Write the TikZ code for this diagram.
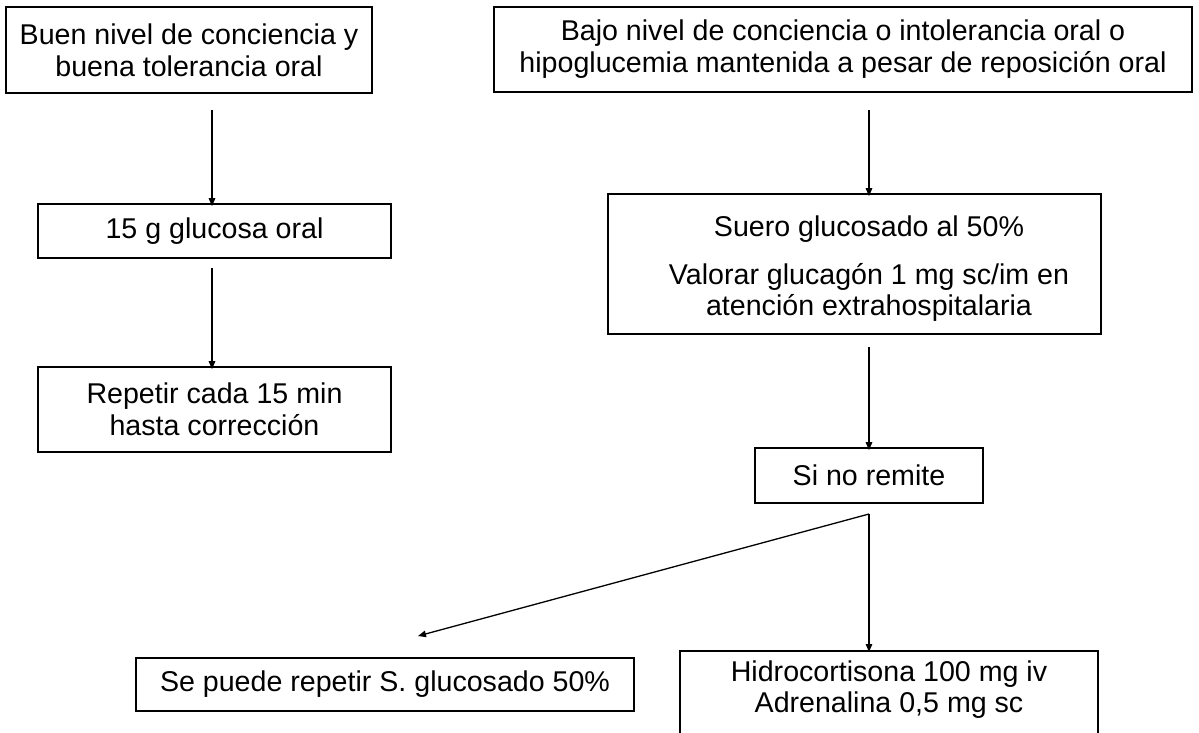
\documentclass[tikz,border=0pt]{standalone}
\usepackage{fontspec}
\setmainfont{Liberation Sans}
\usetikzlibrary{arrows.meta}
\begin{document}
\begin{tikzpicture}[x=1pt,y=-1pt,
  font=\fontsize{28.6}{32}\selectfont,
  box/.style={draw=black,line width=1.6pt,inner sep=0pt,align=center},
  txt/.style={inner sep=0pt,align=center},
  arr/.style={draw=black,line width=1.3pt,-{Triangle[length=8pt,width=6.5pt]}}]
\useasboundingbox (0,0) rectangle (1199,732);
\clip (0,0) rectangle (1199,732);
\fill[white] (0,0) rectangle (1199,732);
\node[box,minimum width=366,minimum height=86] (b1) at (189,50)
  {Buen nivel de conciencia y\\buena tolerancia oral};
\node[box,minimum width=698,minimum height=85] (b2) at (843,49.5)
  {Bajo nivel de conciencia o intolerancia oral o\\hipoglucemia mantenida a pesar de reposición oral};
\node[box,minimum width=353,minimum height=54] (b3) at (214.5,231)
  {15 g glucosa oral};
\node[box,minimum width=353,minimum height=85] (b4) at (214.5,409.5)
  {Repetir cada 15 min\\hasta corrección};
\node[box,minimum width=493,minimum height=140] (b5) at (854.5,264) {};
\node[txt] (t5a) at (869,229) {Suero glucosado al 50\%};
\node[txt,font=\fontsize{28.6}{31}\selectfont] (t5b) at (869,292) {Valorar glucagón 1 mg sc/im en\\atención extrahospitalaria};
\node[box,minimum width=228,minimum height=55] (b6) at (869,475.5)
  {Si no remite};
\node[box,minimum width=498,minimum height=53] (b7) at (385,684.5)
  {Se puede repetir S. glucosado 50\%};
\node[box,minimum width=418,minimum height=120,anchor=north] (b8) at (889,650) {};
\node[txt,font=\fontsize{28.6}{31}\selectfont] (t8) at (889,690) {Hidrocortisona 100 mg iv\\Adrenalina 0,5 mg sc};
\coordinate (s1) at (212,110);
\coordinate (s2) at (212,268);
\coordinate (s3) at (869,110);
\coordinate (s4) at (869,347);
\coordinate (sp) at (869,514);
\coordinate (e7) at (418,636);
\draw[arr] (s1) -- ([yshift=-3]b3.north -| s1);
\draw[arr] (s2) -- ([yshift=-3]b4.north -| s2);
\draw[arr] (s3) -- ([yshift=-3]b5.north -| s3);
\draw[arr] (s4) -- ([yshift=-3]b6.north -| s4);
\draw[arr] (sp) -- (e7);
\draw[arr] (sp) -- ([yshift=-2]b8.north -| sp);
\end{tikzpicture}
\end{document}
